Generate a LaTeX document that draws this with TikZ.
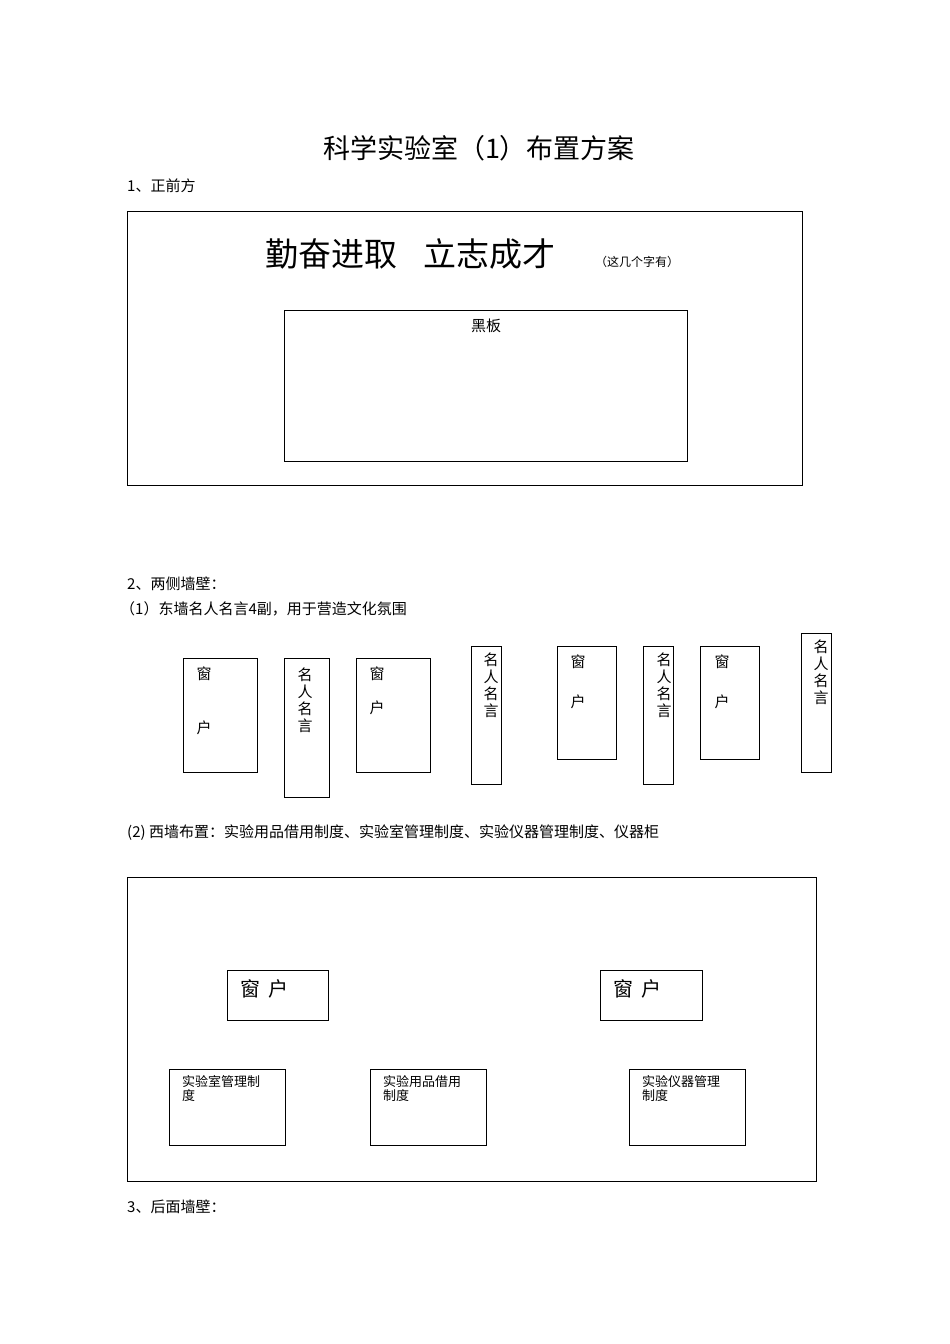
\documentclass[tikz,border=0pt]{standalone}
\usepackage{fontspec}
\setmainfont{Liberation Serif}
\newfontfamily\cjk{Noto Sans CJK SC}
\begin{document}
\begin{tikzpicture}[x=1pt,y=-1pt,
  bx/.style={draw,line width=0.9pt},
  lbl/.style={anchor=west,inner sep=0pt,font=\cjk\fontsize{15}{18}\selectfont},
  brd/.style={anchor=north west,inner sep=0pt,align=left,font=\cjk\fontsize{13}{14}\selectfont}]
\useasboundingbox (0,0) rectangle (950,1344);
\node[font=\cjk\fontsize{27}{30}\selectfont] (title) at (479,148) {科学实验室（1）布置方案};
\node[lbl] (t1) at (127,186) {1、正前方};
\draw[bx] (127,211) rectangle (802,485);
\node[anchor=west,inner sep=0pt,font=\cjk\fontsize{33}{36}\selectfont] (slogan) at (265,254) {勤奋进取\hspace{0.8em}立志成才};
\node[anchor=west,inner sep=0pt,font=\cjk\fontsize{12}{14}\selectfont] (note) at (595,262) {（这几个字有）};
\draw[bx] (284,310) rectangle (687,461);
\node[font=\cjk\fontsize{15}{18}\selectfont] (bb) at (486,326) {黑板};
\node[lbl] (t2) at (127,584) {2、两侧墙壁：};
\node[lbl] (t21) at (120,609) {（1）东墙名人名言4副，用于营造文化氛围};
% east wall
\draw[bx] (183,658) rectangle (257,772);
\node[font=\cjk\fontsize{15}{18}\selectfont] at (204,674) {窗};
\node[font=\cjk\fontsize{15}{18}\selectfont] at (204,728) {户};
\draw[bx] (356,658) rectangle (430,772);
\node[font=\cjk\fontsize{15}{18}\selectfont] at (377,674) {窗};
\node[font=\cjk\fontsize{15}{18}\selectfont] at (377,708) {户};
\draw[bx] (557,646) rectangle (616,759);
\node[font=\cjk\fontsize{15}{18}\selectfont] at (578,662) {窗};
\node[font=\cjk\fontsize{15}{18}\selectfont] at (578,702) {户};
\draw[bx] (700,646) rectangle (759,759);
\node[font=\cjk\fontsize{15}{18}\selectfont] at (722,662) {窗};
\node[font=\cjk\fontsize{15}{18}\selectfont] at (722,702) {户};
\draw[bx] (284,658) rectangle (329,797);
\node[anchor=north,align=center,font=\cjk\fontsize{15}{17}\selectfont] at (305,664) {名\\人\\名\\言};
\draw[bx] (471,646) rectangle (501,784);
\node[anchor=north,align=center,font=\cjk\fontsize{15}{17}\selectfont] at (491,649) {名\\人\\名\\言};
\draw[bx] (643,646) rectangle (673,784);
\node[anchor=north,align=center,font=\cjk\fontsize{15}{17}\selectfont] at (664,649) {名\\人\\名\\言};
\draw[bx] (801,633) rectangle (831,772);
\node[anchor=north,align=center,font=\cjk\fontsize{15}{17}\selectfont] at (821,636) {名\\人\\名\\言};
% west wall
\node[lbl] (t22) at (127,833) {(2) 西墙布置：实验用品借用制度、实验室管理制度、实验仪器管理制度、仪器柜};
\draw[bx] (127,877) rectangle (816,1181);
\draw[bx] (227,970) rectangle (328,1020);
\node[anchor=west,font=\cjk\fontsize{20}{22}\selectfont] at (237,989) {窗\hspace{0.4em}户};
\draw[bx] (600,970) rectangle (702,1020);
\node[anchor=west,font=\cjk\fontsize{20}{22}\selectfont] at (610,989) {窗\hspace{0.4em}户};
\draw[bx] (169,1069) rectangle (285,1145);
\node[brd] at (182,1075) {实验室管理制\\度};
\draw[bx] (370,1069) rectangle (486,1145);
\node[brd] at (383,1075) {实验用品借用\\制度};
\draw[bx] (629,1069) rectangle (745,1145);
\node[brd] at (642,1075) {实验仪器管理\\制度};
\node[lbl] (t3) at (127,1207) {3、后面墙壁：};
\end{tikzpicture}
\end{document}
